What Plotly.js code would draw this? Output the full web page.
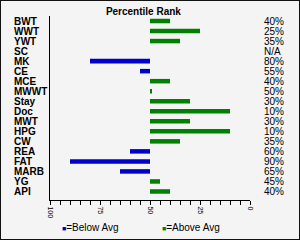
<!DOCTYPE html>
<html>
<head>
<meta charset="utf-8">
<script src="https://cdn.plot.ly/plotly-3.0.1.min.js"></script>
<style>
  html, body { margin: 0; padding: 0; background: #f4f4f4; }
  #wrap { position: relative; width: 300px; height: 240px; }
  #chart { width: 300px; height: 240px; }
  #frame { position: absolute; left: 0; top: 0; width: 300px; height: 240px; box-sizing: border-box; border: 1px solid #111; pointer-events: none; }
</style>
</head>
<body>
<div id="wrap"><div id="chart"></div><div id="frame"></div></div>
<script>
// Data
const categories = ["BWT","WWT","YWT","SC","MK","CE","MCE","MWWT","Stay","Doc","MWT","HPG","CW","REA","FAT","MARB","YG","API"];
const rankValues = [40,25,35,null,80,55,40,49,30,10,30,10,35,60,90,65,45,40];
const rankLabels = ["40%","25%","35%","N/A","80%","55%","40%","50%","30%","10%","30%","10%","35%","60%","90%","65%","45%","40%"];
const average = 50;
const xTickVals = [0,25,50,75,100];
const seriesNames = ["=Below Avg","=Above Avg"];
const seriesColors = ["#0000cc","#008000"];

const belowY = [], belowX = [], aboveY = [], aboveX = [];
categories.forEach((c, i) => {
  const v = rankValues[i];
  if (v === null) return;
  if (v > average) { belowY.push(c); belowX.push(v - average); }
  else { aboveY.push(c); aboveX.push(v - average); }
});

const font = "Liberation Sans, Arial, sans-serif";

const traces = [
  {type: "bar", orientation: "h", name: seriesNames[0], y: belowY, x: belowX, base: average,
   marker: {color: seriesColors[0]}, width: 0.45, showlegend: false, hoverinfo: "skip"},
  {type: "bar", orientation: "h", name: seriesNames[1], y: aboveY, x: aboveX, base: average,
   marker: {color: seriesColors[1]}, width: 0.45, showlegend: false, hoverinfo: "skip"}
];

const annotations = [];
categories.forEach((c, i) => {
  annotations.push({xref: "paper", yref: "y", x: -0.19, y: c, xanchor: "left", yanchor: "middle",
    text: c, showarrow: false, font: {family: font, size: 10, color: "#000", weight: "bold"}});
  annotations.push({xref: "paper", yref: "y", x: 1.06, y: c, xanchor: "left", yanchor: "middle",
    text: rankLabels[i], showarrow: false, font: {family: font, size: 10, color: "#000"}});
});
annotations.push({xref: "paper", yref: "paper", x: 0.05, y: -0.15, xanchor: "left", yanchor: "middle",
  text: '<span style="color:' + seriesColors[0] + ';font-size:7px">■</span>' + seriesNames[0],
  showarrow: false, font: {family: font, size: 10, color: "#000"}});
annotations.push({xref: "paper", yref: "paper", x: 0.55, y: -0.15, xanchor: "left", yanchor: "middle",
  text: '<span style="color:' + seriesColors[1] + ';font-size:7px">■</span>' + seriesNames[1],
  showarrow: false, font: {family: font, size: 10, color: "#000"}});

const layout = {
  width: 300, height: 240,
  margin: {l: 50, r: 50, t: 16, b: 40, pad: 0},
  paper_bgcolor: "#f4f4f4", plot_bgcolor: "#f4f4f4",
  title: {text: "Percentile Rank", x: 0.478, xanchor: "center", y: 0.954, yanchor: "middle", yref: "container",
          font: {family: font, size: 10, color: "#000", weight: "bold"}},
  barmode: "overlay",
  xaxis: {range: [100, 0], showgrid: false, zeroline: false, showline: true, linecolor: "#000", linewidth: 1,
          tickmode: "array", tickvals: xTickVals, ticks: "outside", ticklen: 4, tickcolor: "#000",
          tickangle: 90, tickfont: {family: font, size: 7, color: "#000"},
          minor: {dtick: 5, tick0: 0, ticks: "outside", ticklen: 4, tickcolor: "#000", showgrid: false}},
  yaxis: {type: "category", categoryorder: "array", categoryarray: categories, range: [17.85, -0.5],
          showgrid: false, zeroline: false, showline: true, linecolor: "#000", linewidth: 1,
          showticklabels: false, ticks: ""},
  annotations: annotations,
  showlegend: false
};

Plotly.newPlot("chart", traces, layout, {staticPlot: true, displayModeBar: false});
</script>
</body>
</html>
